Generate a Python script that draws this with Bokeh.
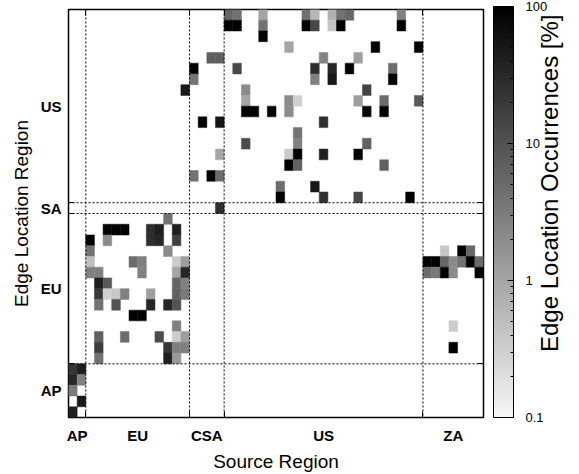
import math
import numpy as np
from bokeh.plotting import figure
from bokeh.models import (ColumnDataSource, LogColorMapper, ColorBar, FixedTicker,
                          CustomJSTickFormatter, Span, LinearAxis)
from bokeh.embed import file_html
from bokeh.resources import INLINE
from bokeh.transform import transform

# ---------------- data ----------------
source_regions = ["AP", "EU", "CSA", "US", "ZA"]
source_sizes = [2, 12, 4, 23, 7]
edge_regions = ["AP", "EU", "SA", "US"]
edge_sizes = [5, 14, 1, 18]

cb_ticks = [0.1, 1, 10, 100]
cb_minor = [0.2, 0.3, 0.4, 0.5, 0.6, 0.7, 0.8, 0.9,
            2, 3, 4, 5, 6, 7, 8, 9,
            20, 30, 40, 50, 60, 70, 80, 90]
cb_title = "Edge Location Occurrences [%]"

cell_edge = (
    [37] * 9 + [36] * 8 + [35] * 1 + [34] * 3 + [33] * 4 + [32] * 6 + [31] * 4 +
    [30] * 3 + [29] * 6 + [28] * 6 + [27] * 3 + [26] * 1 + [25] * 3 + [24] * 5 +
    [23] * 3 + [22] * 3 + [21] * 2 + [20] * 4 +
    [19] * 1 +
    [18] * 1 + [17] * 6 + [16] * 5 + [15] * 5 + [14] * 12 + [13] * 10 + [12] * 4 +
    [11] * 7 + [10] * 5 + [9] * 2 + [8] * 2 + [7] * 5 + [6] * 5 + [5] * 3 +
    [4] * 2 + [3] * 2 + [2] * 1 + [1] * 1 + [0] * 1
)
cell_src = [
    18, 19, 22, 27, 28, 30, 31, 32, 38,
    18, 19, 22, 27, 28, 30, 31, 38,
    22,
    25, 35, 40,
    16, 17, 29, 33,
    14, 19, 28, 30, 32, 37,
    14, 28, 30, 37,
    13, 20, 34,
    20, 25, 26, 33, 36, 40,
    20, 21, 23, 25, 34, 36,
    15, 17, 29,
    26,
    20, 26, 34,
    17, 25, 26, 29, 33,
    25, 26, 36,
    14, 16, 17,
    24, 28,
    24, 29, 33, 39,
    17,
    11,
    4, 5, 6, 9, 10, 12,
    2, 4, 9, 10, 12,
    2, 11, 43, 45, 46,
    2, 7, 8, 12, 13, 41, 42, 43, 44, 45, 46, 47,
    2, 3, 8, 12, 13, 41, 42, 43, 44, 47,
    3, 4, 12, 13,
    3, 4, 5, 6, 9, 12, 13,
    3, 5, 9, 11, 12,
    7, 8,
    12, 44,
    3, 6, 10, 12, 13,
    3, 11, 12, 13, 44,
    3, 11, 12,
    0, 1,
    0, 1,
    0,
    1,
    0,
]
cell_pct = [
    5.8, 4.1, 1.0, 4.1, 0.6, 0.7, 4.1, 5.8, 2.8,
    90, 90, 4.1, 90, 13.6, 0.4, 90, 90,
    85,
    1.0, 90, 90,
    7, 7, 2.5, 1.2,
    90, 13, 28, 34, 85, 5,
    4, 2.8, 49, 90,
    49, 2, 15,
    1.0, 2, 0.3, 1.2, 5, 8.3,
    90, 90, 90, 2, 85, 90,
    90, 56, 28,
    4,
    12, 2.8, 6.7,
    1.0, 0.34, 90, 39, 85,
    90, 6.7, 6.7,
    4, 90, 5,
    5, 49,
    90, 24, 13.6, 90,
    28,
    4.1,
    90, 90, 90, 28, 42, 42,
    90, 2, 28, 34, 17,
    4, 2, 0.4, 90, 5.8,
    0.48, 5, 2.8, 0.34, 1.2, 90, 90, 5.8, 2, 4.1, 90, 5,
    2.8, 2.8, 2.8, 1.0, 34, 5, 3.3, 90, 2, 90,
    42, 8.3, 5.8, 2.8,
    21, 0.29, 0.39, 2.8, 1.2, 6.7, 3.3,
    4.1, 9.6, 34, 34, 10,
    90, 90,
    2.8, 0.34,
    6.7, 5, 12, 0.34, 1.2,
    17, 21, 2.8, 2.8, 90,
    4.1, 42, 1.4,
    21, 42,
    34, 2.8,
    3.3,
    49,
    39,
]

# ---------------- derived helpers ----------------
n_src = sum(source_sizes)
n_edge = sum(edge_sizes)
x_bounds = [float(v) for v in np.cumsum(source_sizes)[:-1]]
y_bounds = [float(v) for v in np.cumsum(edge_sizes)[:-1]]
x_starts = np.concatenate([[0], np.cumsum(source_sizes)[:-1]])
y_starts = np.concatenate([[0], np.cumsum(edge_sizes)[:-1]])
x_centers = [float(s + n / 2) for s, n in zip(x_starts, source_sizes)]
y_centers = [float(s + n / 2) for s, n in zip(y_starts, edge_sizes)]

source = ColumnDataSource(dict(
    x=[s + 0.5 for s in cell_src],
    y=[e + 0.5 for e in cell_edge],
    pct=cell_pct,
))

grays = ["#%02x%02x%02x" % (v, v, v) for v in np.linspace(247, 0, 256).round().astype(int)]
mapper = LogColorMapper(palette=grays, low=cb_ticks[0], high=cb_ticks[-1])

FONT = "Liberation Sans"

p = figure(width=579, height=474, x_range=(0, n_src), y_range=(0, n_edge),
           output_backend="svg", toolbar_location=None,
           min_border_left=68, min_border_right=95, min_border_top=9, min_border_bottom=54)
p.xgrid.visible = False
p.ygrid.visible = False
p.outline_line_color = "black"
p.outline_line_width = 1.5
p.background_fill_color = "white"
p.border_fill_color = "white"

p.rect(x="x", y="y", width=1, height=1, source=source,
       fill_color=transform("pct", mapper), line_color=transform("pct", mapper), line_width=0.5)

for b in x_bounds:
    p.add_layout(Span(location=b, dimension="height", line_color="black",
                      line_width=1, line_dash="2 2"))
for b in y_bounds:
    p.add_layout(Span(location=b, dimension="width", line_color="black",
                      line_width=1, line_dash="2 2"))

fmt_code = "const i = pos.indexOf(tick); return i >= 0 ? names[i] : '';"

def style_axis(ax, centers, names, bounds):
    ax.ticker = FixedTicker(ticks=centers, minor_ticks=bounds)
    ax.formatter = CustomJSTickFormatter(args=dict(pos=centers, names=names), code=fmt_code)
    ax.major_tick_line_color = None
    ax.major_tick_in = 0
    ax.major_tick_out = 0
    ax.minor_tick_in = 6
    ax.minor_tick_out = 0
    ax.minor_tick_line_color = "black"
    ax.axis_line_color = None
    ax.major_label_text_font = FONT
    ax.major_label_text_font_style = "bold"
    ax.major_label_text_font_size = "15px"
    ax.major_label_text_color = "black"
    ax.axis_label_text_font = FONT
    ax.axis_label_text_font_style = "normal"
    ax.axis_label_text_font_size = "19px"
    ax.axis_label_text_color = "black"

style_axis(p.xaxis[0], x_centers, source_regions, x_bounds)
style_axis(p.yaxis[0], y_centers, edge_regions, y_bounds)
p.xaxis.major_label_standoff = 9
p.xaxis.axis_label = "Source Region"
p.xaxis.axis_label_standoff = 4
p.yaxis.major_label_standoff = 7
p.yaxis.axis_label = "Edge Location Region"
p.yaxis.axis_label_standoff = 6

# mirrored boundary ticks on top and right (no labels)
for side, centers, bounds in (("above", x_centers, x_bounds), ("right", y_centers, y_bounds)):
    ax = LinearAxis(ticker=FixedTicker(ticks=centers, minor_ticks=bounds),
                    formatter=CustomJSTickFormatter(code="return '';"))
    ax.major_tick_line_color = None
    ax.major_tick_in = 0
    ax.major_tick_out = 0
    ax.minor_tick_in = 6
    ax.minor_tick_out = 0
    ax.minor_tick_line_color = "black"
    ax.axis_line_color = None
    ax.major_label_text_font_size = "0px"
    ax.major_label_standoff = 0
    p.add_layout(ax, side)

cb = ColorBar(color_mapper=mapper,
              ticker=FixedTicker(ticks=cb_ticks, minor_ticks=cb_minor),
              formatter=CustomJSTickFormatter(code="return tick.toString();"),
              location=(10, 0), width=20, height=411, padding=0, margin=0,
              bar_line_color="black", bar_line_width=1,
              major_tick_in=6, major_tick_out=0, minor_tick_in=3, minor_tick_out=0,
              major_tick_line_color="black", minor_tick_line_color="black",
              label_standoff=12, major_label_text_font=FONT,
              major_label_text_font_size="13px", major_label_text_color="black",
              background_fill_color=None, border_line_color=None)
p.add_layout(cb, "right")

# colour-bar title: a single rotated tick label of an otherwise empty right axis,
# starting at the given height and reading bottom to top
title_start = 6.1
ttl = LinearAxis(ticker=FixedTicker(ticks=[title_start]),
                 formatter=CustomJSTickFormatter(args=dict(t=cb_title), code="return t;"))
ttl.axis_line_color = None
ttl.major_tick_line_color = None
ttl.minor_tick_line_color = None
ttl.major_tick_in = 0
ttl.major_tick_out = 0
ttl.major_label_orientation = math.pi / 2
ttl.major_label_standoff = -1
ttl.major_label_text_font = FONT
ttl.major_label_text_font_style = "normal"
ttl.major_label_text_font_size = "24px"
ttl.major_label_text_color = "black"
p.add_layout(ttl, "right")

open("out.html", "w").write(file_html(p, INLINE))
